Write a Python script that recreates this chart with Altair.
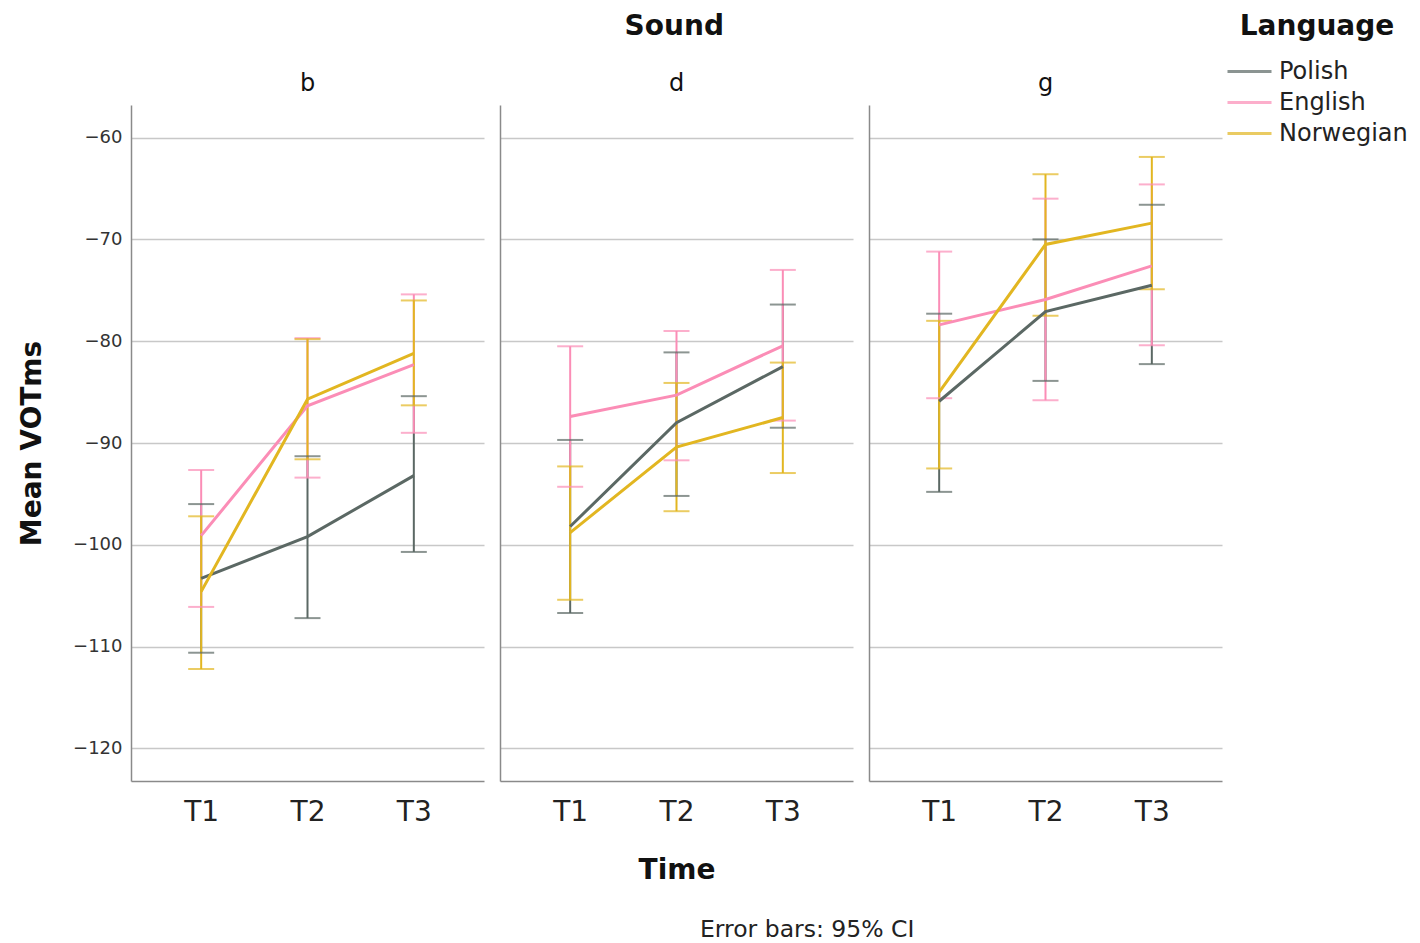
import altair as alt
import pandas as pd

times = ["T1", "T2", "T3"]
sounds = ["b", "d", "g"]
languages = ["Polish", "English", "Norwegian"]
colors = ["#5b6864", "#fb8db6", "#e2b621"]

# values per language: b(T1,T2,T3), d(T1,T2,T3), g(T1,T2,T3)
polish_mean = [-103.3, -99.2, -93.2, -98.2, -88.0, -82.5, -85.9, -77.1, -74.5]
polish_lo = [-110.6, -107.2, -100.7, -106.7, -95.2, -88.5, -94.8, -83.9, -82.25]
polish_hi = [-96.0, -91.3, -85.4, -89.7, -81.1, -76.4, -77.3, -70.0, -66.6]

english_mean = [-99.1, -86.35, -82.3, -87.4, -85.3, -80.45, -78.4, -75.9, -72.6]
english_lo = [-106.1, -93.4, -89.0, -94.3, -91.7, -87.8, -85.6, -85.8, -80.4]
english_hi = [-92.65, -79.7, -75.4, -80.5, -79.0, -73.0, -71.2, -66.0, -64.6]

norwegian_mean = [-104.6, -85.7, -81.2, -98.8, -90.4, -87.5, -85.0, -70.5, -68.4]
norwegian_lo = [-112.2, -91.6, -86.3, -105.4, -96.7, -92.95, -92.5, -77.5, -74.9]
norwegian_hi = [-97.2, -79.8, -76.0, -92.3, -84.1, -82.1, -78.0, -63.6, -61.9]

y_ticks = [-60, -70, -80, -90, -100, -110, -120]

series = {
    "Polish": (polish_mean, polish_lo, polish_hi),
    "English": (english_mean, english_lo, english_hi),
    "Norwegian": (norwegian_mean, norwegian_lo, norwegian_hi),
}

rows = []
for lang in languages:
    m, lo, hi = series[lang]
    k = 0
    for s in sounds:
        for t in times:
            rows.append({"Language": lang, "Sound": s, "Time": t,
                         "Mean": m[k], "Lo": lo[k], "Hi": hi[k]})
            k += 1
df = pd.DataFrame(rows)

FONT = "DejaVu Sans"
W, H = 353, 676
ydom = [-123.2, -56.8]


def panel(sound, idx):
    base = alt.Chart(df).transform_filter(alt.datum.Sound == sound)
    x = alt.X("Time:N", sort=times,
              scale=alt.Scale(type="point", padding=0.66),
              axis=alt.Axis(title="Time" if idx == 1 else None, labelAngle=0,
                            labelFontSize=28, labelColor="#222222",
                            labelPadding=17, titleFontSize=28,
                            titleFontWeight="bold", titleColor="#111111",
                            titlePadding=30, ticks=False, grid=False))
    if idx == 0:
        yaxis = alt.Axis(title="Mean VOTms", values=y_ticks, labelFontSize=18,
                         labelColor="#333333", labelPadding=9,
                         titleFontSize=28, titleFontWeight="bold",
                         titleColor="#111111", titlePadding=26, ticks=False)
    else:
        yaxis = alt.Axis(title=None, values=y_ticks, labels=False, ticks=False)
    yscale = alt.Scale(domain=ydom, nice=False, zero=False)
    color = alt.Color("Language:N", sort=languages,
                      scale=alt.Scale(domain=languages, range=colors),
                      legend=alt.Legend(title="Language"))
    rules = base.mark_rule(strokeWidth=2).encode(
        x=x, y=alt.Y("Lo:Q", scale=yscale, axis=yaxis), y2="Hi:Q", color=color)
    cap_lo = base.mark_tick(size=26, thickness=2).encode(
        x=x, y=alt.Y("Lo:Q"), color=color)
    cap_hi = base.mark_tick(size=26, thickness=2).encode(
        x=x, y=alt.Y("Hi:Q"), color=color)
    lines = base.mark_line(strokeWidth=3).encode(
        x=x, y=alt.Y("Mean:Q"), color=color)
    return alt.layer(rules, cap_lo, cap_hi, lines).properties(
        width=W, height=H,
        title=alt.TitleParams(sound, fontSize=24, fontWeight="normal",
                              color="#111111", anchor="middle", offset=9))


inner = alt.hconcat(*[panel(s, i) for i, s in enumerate(sounds)], spacing=16,
                    title=alt.TitleParams("Sound", fontSize=28, fontWeight="bold",
                                          color="#111111", anchor="middle",
                                          offset=31, dx=54))

chart = alt.vconcat(inner, title=alt.TitleParams(
    "Error bars: 95% CI", orient="bottom", fontSize=23.5, fontWeight="normal",
    color="#222222", anchor="start", frame="group", offset=34,
    dx=569)).properties(
    padding={"left": 10, "top": 5, "right": 0, "bottom": 0}
).configure(font=FONT).configure_view(stroke=None).configure_axis(
    domainColor="#8a8a8a", domainWidth=1.5, gridColor="#c8c8c8", gridWidth=1.5,
    labelFont=FONT, titleFont=FONT
).configure_legend(
    orient="none", legendX=1095, legendY=-92, titleFontSize=28,
    titleFontWeight="bold", titleColor="#111111", titleAnchor="middle",
    labelFontSize=24, labelColor="#222222", symbolType="M-1,0H3",
    symbolStrokeWidth=3, symbolSize=484, rowPadding=6, labelOffset=28,
    titlePadding=18
).configure_title(font=FONT)

chart.save("out.html", embed_options={"renderer": "svg", "actions": False})
